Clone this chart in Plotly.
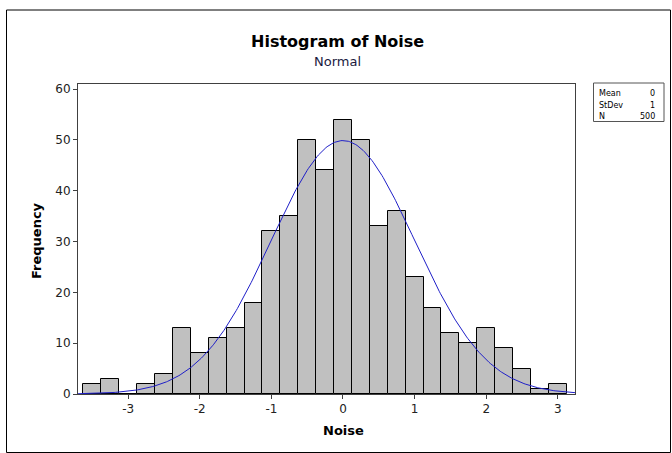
import numpy as np
import plotly.graph_objects as go

# ---- data ----
bin_centers = [-3.5, -3.25, -3.0, -2.75, -2.5, -2.25, -2.0, -1.75, -1.5, -1.25,
               -1.0, -0.75, -0.5, -0.25, 0.0, 0.25, 0.5, 0.75, 1.0, 1.25,
               1.5, 1.75, 2.0, 2.25, 2.5, 2.75, 3.0]
counts = [2, 3, 0, 2, 4, 13, 8, 11, 13, 18,
          32, 35, 50, 44, 54, 50, 33, 36, 23, 17,
          12, 10, 13, 9, 5, 1, 2]
bin_width = 0.25
stat_labels = ["Mean", "StDev", "N"]
stat_values = ["0", "1", "500"]
MEAN, STDEV, N = 0.0, 1.0, 500
x_ticks = [-3, -2, -1, 0, 1, 2, 3]
x_tick_text = ["-3", "-2", "-1", "0", "1", "2", "3"]
y_ticks = [0, 10, 20, 30, 40, 50, 60]

W, H = 672, 453
L, R, T, B = 78, 97, 84, 59
PW, PH = W - L - R, H - T - B
XR = [-3.70, 3.24]
YR = [0, 61.0]

def px(x):
    return (x - L) / PW

def py(y):
    return 1 - (y - T) / PH

FONT = "DejaVu Sans"

fig = go.Figure()
fig.add_trace(go.Bar(
    x=bin_centers, y=counts, width=bin_width,
    marker=dict(color="#c0c0c0", line=dict(color="#000000", width=1)),
    hoverinfo="x+y", showlegend=False,
))

# fitted normal curve from the displayed statistics
xc = np.linspace(XR[0], XR[1], 400)
yc = N * bin_width * np.exp(-0.5 * ((xc - MEAN) / STDEV) ** 2) / (STDEV * np.sqrt(2 * np.pi))
fig.add_trace(go.Scatter(x=xc, y=yc, mode="lines",
                         line=dict(color="#1f1fc8", width=1), showlegend=False,
                         hoverinfo="skip"))

axis_common = dict(showline=True, linecolor="#404040", linewidth=1, mirror=True,
                   ticks="outside", ticklen=4, tickcolor="#404040",
                   showgrid=False, zeroline=False,
                   tickfont=dict(family=FONT, size=12, color="#222222"))
fig.update_xaxes(range=XR, tickvals=x_ticks, ticktext=x_tick_text, **axis_common)
fig.update_yaxes(range=YR, tickvals=y_ticks, **axis_common)

shapes = [
    # outer border
    dict(type="rect", xref="paper", yref="paper",
         x0=px(6.5), x1=px(670.5), y0=py(452.5), y1=py(10),
         line=dict(color="#000000", width=1), fillcolor="rgba(0,0,0,0)", layer="below"),
    # stats box
    dict(type="rect", xref="paper", yref="paper",
         x0=px(593.5), x1=px(664), y0=py(121.5), y1=py(83),
         line=dict(color="#555555", width=1), fillcolor="white"),
]

annotations = [
    dict(text="<b>Histogram of Noise</b>", xref="paper", yref="paper",
         x=px(337), y=py(42), showarrow=False, xanchor="center", yanchor="middle",
         font=dict(family=FONT, size=16, color="#000000")),
    dict(text="Normal", xref="paper", yref="paper",
         x=px(337), y=py(62), showarrow=False, xanchor="center", yanchor="middle",
         font=dict(family=FONT, size=13, color="#1a1a40")),
    dict(text="<b>Noise</b>", xref="paper", yref="paper",
         x=px(343), y=py(430), showarrow=False, xanchor="center", yanchor="middle",
         font=dict(family=FONT, size=13, color="#000000")),
    dict(text="<b>Frequency</b>", xref="paper", yref="paper", textangle=-90,
         x=px(36), y=py(241), showarrow=False, xanchor="center", yanchor="middle",
         font=dict(family=FONT, size=13, color="#000000")),
]
row_y = [94, 105, 116]
for lab, val, ry in zip(stat_labels, stat_values, row_y):
    annotations.append(dict(text=lab, xref="paper", yref="paper", x=px(597), y=py(ry),
                            showarrow=False, xanchor="left", yanchor="middle",
                            font=dict(family=FONT, size=8, color="#000000")))
    annotations.append(dict(text=val, xref="paper", yref="paper", x=px(657), y=py(ry),
                            showarrow=False, xanchor="right", yanchor="middle",
                            font=dict(family=FONT, size=8, color="#000000")))

fig.update_layout(
    width=W, height=H,
    margin=dict(l=L, r=R, t=T, b=B),
    paper_bgcolor="white", plot_bgcolor="white",
    bargap=0, shapes=shapes, annotations=annotations,
    showlegend=False,
)

fig.write_html("out.html", config={"displayModeBar": False},
               post_script="document.body.style.margin='0';document.body.style.padding='0';")
